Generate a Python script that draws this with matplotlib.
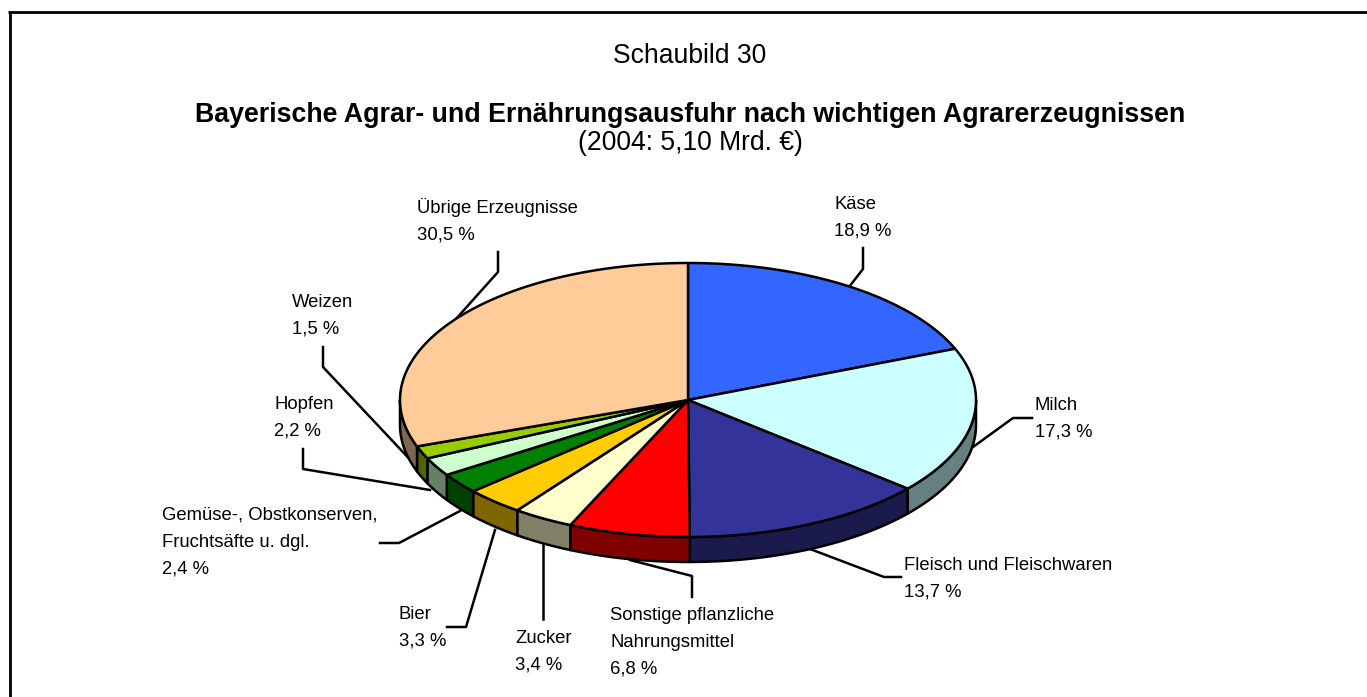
import numpy as np
import matplotlib
matplotlib.use("Agg")
import matplotlib.pyplot as plt
from matplotlib.colors import to_rgb

# data, clockwise from 12 o'clock
labels = ["Käse", "Milch", "Fleisch und Fleischwaren",
          "Sonstige pflanzliche\nNahrungsmittel", "Zucker", "Bier",
          "Gemüse-, Obstkonserven,\nFruchtsäfte u. dgl.", "Hopfen", "Weizen",
          "Übrige Erzeugnisse"]
values = [18.9, 17.3, 13.7, 6.8, 3.4, 3.3, 2.4, 2.2, 1.5, 30.5]
colors = ["#3366FF", "#CCFFFF", "#333399", "#FF0000", "#FFFFCC",
          "#FFCC00", "#008000", "#CCFFCC", "#99CC00", "#FFCC99"]

# top left corner of each label block, in pixels
label_pos = [(834, 196), (1035, 397), (904, 557), (610, 607), (515, 630),
             (399, 606), (162, 507), (274, 396), (292, 294), (417, 198)]

leaders = [
    [(849, 287), (863, 269), (863, 248)],
    [(973, 447), (1013, 418), (1032, 418)],
    [(810, 549), (884, 577), (901, 577)],
    [(630, 560), (692, 576), (692, 597)],
    [(543, 545), (543, 619)],
    [(495, 530), (466, 627), (447, 627)],
    [(460, 511), (399, 543), (380, 543)],
    [(430, 490), (303, 469), (303, 449)],
    [(417, 467), (323, 367), (323, 347)],
    [(455, 320), (498, 272), (498, 252)],
]

CX, CY = 688, 400
RX, RY = 288, 137
DEPTH = 25
LW = 1.8
FONT = "Liberation Sans"


def rim_x_y(theta):
    return CX + RX * np.sin(theta), CY - RY * np.cos(theta)


fig = plt.figure(figsize=(13.67, 6.97), dpi=100)
ax = fig.add_axes([0, 0, 1, 1])
ax.set_xlim(0, 1367)
ax.set_ylim(697, 0)
ax.axis("off")

# page frame, top and left only
ax.plot([8, 1367], [12, 12], color="black", lw=2, solid_capstyle="butt")
ax.plot([10, 10], [12, 697], color="black", lw=2, solid_capstyle="butt")

for pts in leaders:
    xs, ys = zip(*pts)
    ax.plot(xs, ys, color="black", lw=LW, zorder=1)

edges = np.cumsum([0] + values) / sum(values) * 2 * np.pi

# side of the disc, only the front half shows
for i, c in enumerate(colors):
    lo, hi = max(edges[i], np.pi / 2), min(edges[i + 1], 3 * np.pi / 2)
    if hi <= lo:
        continue
    t = np.linspace(lo, hi, 80)
    x, y = rim_x_y(t)
    ax.fill(np.r_[x, x[::-1]], np.r_[y, y[::-1] + DEPTH],
            facecolor=np.array(to_rgb(c)) * 0.5, edgecolor="black",
            lw=LW, joinstyle="round", zorder=2)

# top of the disc
for i, c in enumerate(colors):
    t = np.linspace(edges[i], edges[i + 1], 200)
    x, y = rim_x_y(t)
    ax.fill(np.r_[CX, x], np.r_[CY, y], facecolor=c, edgecolor="black",
            lw=LW, joinstyle="round", zorder=3)

# text
ax.text(690, 56, "Schaubild 30", ha="center", va="center",
        family=FONT, fontsize=19.1)
ax.text(690, 114.5, "Bayerische Agrar- und Ernährungsausfuhr nach wichtigen Agrarerzeugnissen",
        ha="center", va="center", family=FONT, fontsize=19.3, fontweight="bold")
ax.text(690, 143.5, "(2004: 5,10 Mrd. €)", ha="center", va="center",
        family=FONT, fontsize=19.1)

for name, v, (x, y) in zip(labels, values, label_pos):
    pct = f"{v:.1f}".replace(".", ",") + " %"
    ax.text(x, y, name + "\n" + pct, ha="left", va="top", family=FONT,
            fontsize=13.3, linespacing=1.75)

fig.savefig("out.png", dpi=100, facecolor="white")
